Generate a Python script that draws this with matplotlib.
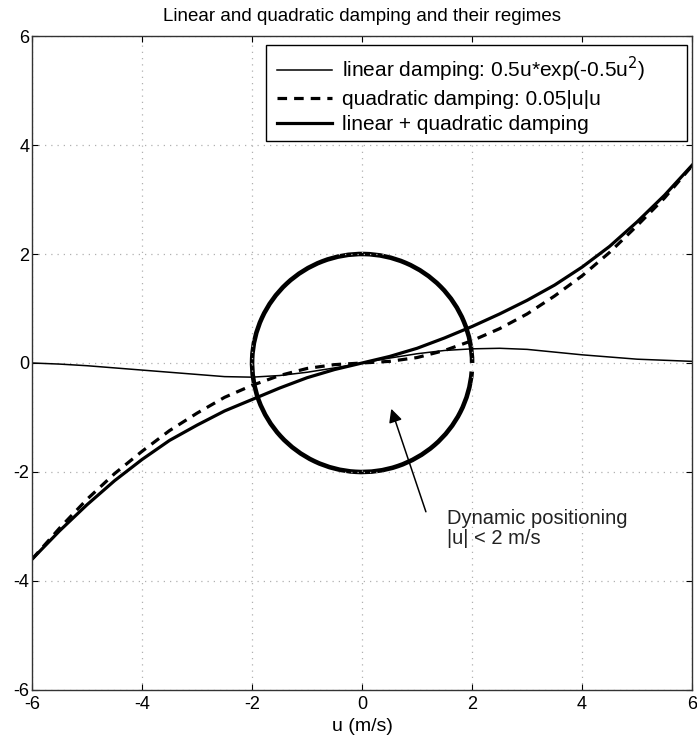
import matplotlib as mpl
mpl.use('agg')
mpl.rcParams['axes.unicode_minus'] = False
mpl.rcParams['font.family'] = ['Liberation Sans', 'DejaVu Sans']

import matplotlib.pyplot as plt
from matplotlib.patches import Arc, Rectangle

# velocity samples (m/s) and damping curves
u = [-6, -5.5, -5, -4.5, -4, -3.5, -3, -2.5, -2, -1.5, -1, -0.5, 0,
     0.5, 1, 1.5, 2, 2.5, 3, 3.5, 4, 4.5, 5, 5.5, 6]
lin = [0.0, -0.02, -0.05, -0.09, -0.13, -0.17, -0.21, -0.25, -0.26, -0.23, -0.17, -0.09, 0.0,
       0.09, 0.17, 0.23, 0.26, 0.27, 0.25, 0.2, 0.15, 0.11, 0.07, 0.05, 0.03]
quad = [-3.6, -3.03, -2.5, -2.03, -1.62, -1.24, -0.92, -0.63, -0.41, -0.23, -0.1, -0.03, 0.0,
        0.03, 0.1, 0.23, 0.41, 0.63, 0.9, 1.23, 1.6, 2.03, 2.52, 3.03, 3.62]
both = [-3.6, -3.08, -2.6, -2.16, -1.77, -1.42, -1.14, -0.88, -0.67, -0.46, -0.27, -0.12, 0.0,
        0.12, 0.27, 0.46, 0.67, 0.9, 1.15, 1.43, 1.76, 2.14, 2.59, 3.08, 3.63]

# DP regime circle
dp_center = (0, 0)
dp_radius = 2
dp_gap = (-4.5, 0)   # degrees, small break on the right side

# annotation arrow (head, tail) and text anchor
arrow_head = (0.53, -0.84)
arrow_tail = (1.16, -2.73)
note_pos = (1.55, -3.03)

ticks = [-6, -4, -2, 0, 2, 4, 6]

fig = plt.figure(figsize=(6.97, 7.44), dpi=100)
ax = fig.add_axes([0.046, 0.0726, 0.947, 0.879])

ax.plot(u, lin, color='black', lw=1.1, solid_joinstyle='round',
        label='linear damping: 0.5u*exp(-0.5u$^2$)')
ax.plot(u, quad, color='black', lw=2.3, ls=(0, (3.0, 2.2)),
        label='quadratic damping: 0.05|u|u')
ax.plot(u, both, color='black', lw=2.3, solid_joinstyle='round',
        label='linear + quadratic damping')

arc = Arc(dp_center, 2 * dp_radius, 2 * dp_radius, theta1=dp_gap[1], theta2=360 + dp_gap[0],
          color='black', lw=3.3)
ax.add_patch(arc)

ax.annotate('', xy=arrow_head, xytext=arrow_tail,
            arrowprops=dict(arrowstyle='-|>', color='black', lw=1.1,
                            mutation_scale=20, shrinkA=0, shrinkB=0))
ax.text(note_pos[0], note_pos[1], 'Dynamic positioning\n|u| < 2 m/s', fontsize=14.5,
        va='center', ha='left', linespacing=1.05, color='#222222')

ax.set_xlim(-6, 6)
ax.set_ylim(-6, 6)
ax.set_xticks(ticks)
ax.set_yticks(ticks)
ax.grid(True, color='#b0b0b0', ls=(0, (1, 4)), lw=0.9)
ax.tick_params(direction='in', top=True, right=True, labelsize=13, length=4, width=0.8)
ax.tick_params(axis='x', pad=4)
ax.tick_params(axis='y', pad=2)
for s in ax.spines.values():
    s.set_linewidth(1.0)
    s.set_color('#333333')

ax.set_xlabel('u (m/s)', fontsize=14, labelpad=4)
ax.set_title('Linear and quadratic damping and their regimes', fontsize=13.5, pad=11)

# MATLAB-style legend box, wider than its entries
frame = Rectangle((0.3545, 0.8394), 0.6375, 0.1466, transform=ax.transAxes,
                  facecolor='white', edgecolor='black', lw=1.0, zorder=4.5)
ax.add_patch(frame)
leg = ax.legend(loc='upper left', bbox_to_anchor=(0.3576, 0.986), fontsize=15,
                handlelength=2.6, handletextpad=0.5, borderaxespad=0.0,
                frameon=False, labelspacing=0.3, borderpad=0.45)

plt.savefig('out.png', dpi=100)
